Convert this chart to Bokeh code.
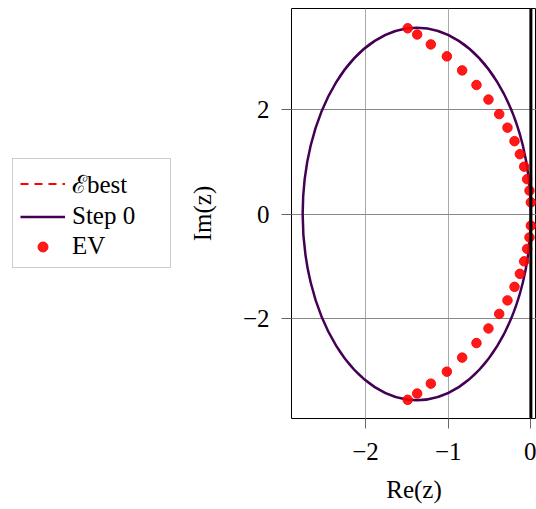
from bokeh.plotting import figure
from bokeh.layouts import row
from bokeh.models import Legend, LegendItem, Span, FixedTicker, Range1d
from bokeh.embed import file_html
from bokeh.resources import INLINE

# ---- data ----
ev_re = [-1.49, -1.375, -1.21, -1.016, -0.831, -0.658, -0.513, -0.383, -0.283, -0.198,
         -0.133, -0.081, -0.045, -0.017, 0.0,
         0.0, -0.017, -0.045, -0.081, -0.133, -0.198, -0.283, -0.383, -0.513, -0.658,
         -0.831, -1.016, -1.21, -1.375, -1.49]
ev_im = [3.57, 3.45, 3.26, 3.03, 2.76, 2.48, 2.20, 1.92, 1.66, 1.40,
         1.15, 0.91, 0.67, 0.45, 0.225,
         -0.225, -0.45, -0.67, -0.91, -1.15, -1.40, -1.66, -1.92, -2.20, -2.48,
         -2.76, -3.03, -3.26, -3.45, -3.57]
step0_center_re = [-1.38]
step0_center_im = [0.0]
step0_width = [2.76]
step0_height = [7.16]
x_ticks = [-2, -1, 0]
x_tick_labels = ["\u22122", "\u22121", "0"]
y_ticks = [-2, 0, 2]
y_tick_labels = ["\u22122", "0", "2"]
legend_labels = ["\u2130best", "Step 0", "EV"]

FONT = "Liberation Serif"
FS = "25px"
PURPLE = "#440154"
LEFT_W = 180
H = 509

# ---------------- main plot ----------------
p = figure(width=536 - LEFT_W, height=H, output_backend="svg", toolbar_location=None,
           x_range=(-2.895, 0.068), y_range=(-3.93, 3.95),
           min_border_left=291 - LEFT_W, min_border_right=0, min_border_top=8,
           min_border_bottom=91)
p.background_fill_color = "white"
p.border_fill_color = "white"
p.outline_line_color = "black"
p.outline_line_width = 1
p.outline_line_alpha = 1.0

p.xgrid.grid_line_color = "#aaaaaa"
p.ygrid.grid_line_color = "#888888"

for ax in (p.xaxis[0], p.yaxis[0]):
    ax.axis_line_color = None
    ax.major_tick_line_color = "#666666"
    ax.major_tick_in = 0
    ax.major_tick_out = 10
    ax.minor_tick_line_color = None
    ax.major_label_text_font = FONT
    ax.major_label_text_font_size = FS
    ax.major_label_text_color = "black"
    ax.axis_label_text_font = FONT
    ax.axis_label_text_font_size = FS
    ax.axis_label_text_font_style = "normal"
    ax.axis_label_text_color = "black"

p.xaxis.ticker = FixedTicker(ticks=x_ticks)
p.xaxis.major_label_overrides = dict(zip(x_ticks, x_tick_labels))
p.yaxis.ticker = FixedTicker(ticks=y_ticks)
p.yaxis.major_label_overrides = dict(zip(y_ticks, y_tick_labels))
p.xaxis.axis_label = "Re(z)"
p.yaxis.axis_label = "Im(z)"
p.xaxis.major_label_standoff = 14
p.yaxis.major_label_standoff = 12
p.xaxis.axis_label_standoff = 13
p.yaxis.axis_label_standoff = 24

p.add_layout(Span(location=0, dimension="height", line_color="black", line_width=3))

p.ellipse(x=step0_center_re, y=step0_center_im, width=step0_width, height=step0_height,
          fill_color=None, line_color=PURPLE, line_width=2.5)
p.scatter(x=ev_re, y=ev_im, size=9.5, fill_color="red", line_color="red",
          fill_alpha=0.9, line_alpha=0.9)

# ---------------- legend panel ----------------
lp = figure(width=LEFT_W, height=H, output_backend="svg", toolbar_location=None,
            x_range=Range1d(0, 1), y_range=Range1d(0, 1),
            x_axis_type=None, y_axis_type=None,
            min_border=0)
lp.outline_line_color = None
lp.grid.visible = False
lp.background_fill_color = "white"
lp.border_fill_color = "white"

# proxy renderers (kept outside the visible range) that only feed the legend
r_best = lp.line(x=[5, 6], y=[5, 6], line_color="red", line_dash="8 6", line_width=2)
r_step = lp.line(x=[5, 6], y=[5, 6], line_color=PURPLE, line_width=2.5)
r_ev = lp.scatter(x=[5], y=[5], size=9.5, fill_color="red", line_color="red",
                  fill_alpha=0.9, line_alpha=0.9)

legend = Legend(items=[
    LegendItem(label=legend_labels[0], renderers=[r_best]),
    LegendItem(label=legend_labels[1], renderers=[r_step]),
    LegendItem(label=legend_labels[2], renderers=[r_ev]),
], location=(12, 150))
legend.label_text_font = FONT
legend.label_text_font_size = FS
legend.label_text_color = "black"
legend.label_height = 25
legend.glyph_height = 25
legend.glyph_width = 45
legend.label_standoff = 7
legend.label_width = 91
legend.spacing = 2
legend.padding = 7
legend.margin = 0
legend.border_line_color = "#999999"
legend.border_line_width = 1
legend.background_fill_alpha = 1.0
lp.add_layout(legend)

layout = row(lp, p)
open("out.html", "w").write(file_html(layout, INLINE))
